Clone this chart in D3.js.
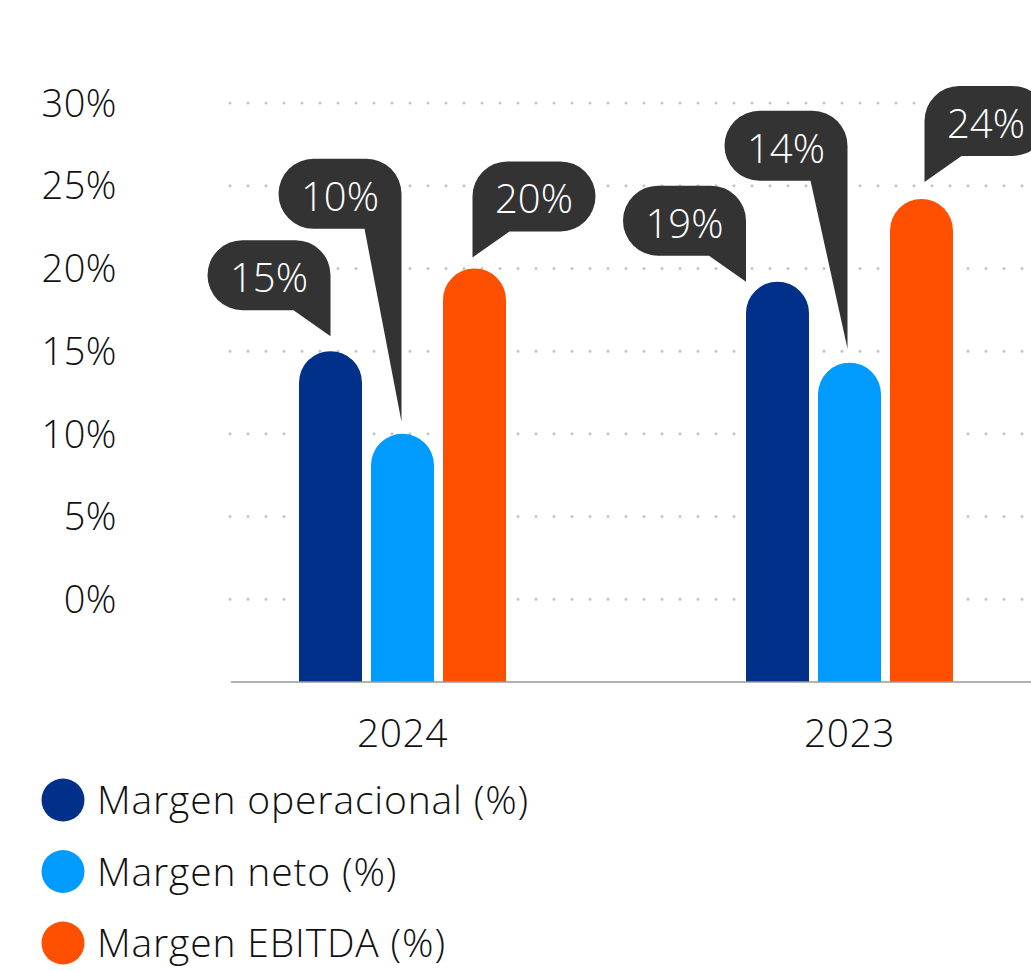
<!DOCTYPE html>
<html>
<head>
<meta charset="utf-8">
<script src="https://cdn.jsdelivr.net/npm/d3@7"></script>
<style>
  html, body { margin: 0; padding: 0; background: #fff; }
  text { font-family: "Open Sans", "Noto Sans", sans-serif; font-weight: 300; }
</style>
</head>
<body>
<div id="chart"></div>
<script>
// data
var years = ["2024", "2023"];
var seriesNames = ["Margen operacional (%)", "Margen neto (%)", "Margen EBITDA (%)"];
var margenOperacional = [15, 19.2];
var margenNeto = [10, 14.3];
var margenEbitda = [20, 24.2];
var yTicks = [0, 5, 10, 15, 20, 25, 30];

var colors = ["#00308a", "#009bff", "#fe5000"];

// callout layout (tail side, gap above bar, tail length, tip shift)
var calloutSide = ["right", "right", "left"];
var calloutGap = { "2024": [15, 12, 11], "2023": [0, 14, 17] };
var calloutTail = { "2024": [26, 193, 26], "2023": [26, 168, 26] };
var calloutDx = { "2024": [0, -1, -2], "2023": [-31.5, -2, 3] };

var width = 1031, height = 971;
var seriesValues = [margenOperacional, margenNeto, margenEbitda];

var rows = [];
years.forEach(function(yr, i) {
    seriesValues.forEach(function(vals, s) {
        rows.push({ year: yr, s: s, value: vals[i] });
    });
});

var svg = d3.select("#chart").append("svg")
    .attr("width", width)
    .attr("height", height);

var y = d3.scaleLinear()
    .domain([-5, 30])
    .range([682, 103]);

var x0 = d3.scaleBand()
    .domain(years)
    .range([179, 1073]);

var x1 = d3.scaleBand()
    .domain(d3.range(seriesNames.length))
    .range([x0.bandwidth() / 2 - 103.5, x0.bandwidth() / 2 + 103.5])
    .paddingInner(0.125);

// dotted grid lines
svg.append("g").selectAll("line")
    .data(yTicks)
    .enter().append("line")
    .attr("x1", 230)
    .attr("x2", width)
    .attr("y1", function(d) { return y(d); })
    .attr("y2", function(d) { return y(d); })
    .attr("stroke", "#c4c4c4")
    .attr("stroke-width", 3)
    .attr("stroke-linecap", "round")
    .attr("stroke-dasharray", "0 18");

// y labels
svg.append("g").selectAll("text")
    .data(yTicks)
    .enter().append("text")
    .attr("x", 117)
    .attr("y", function(d) { return y(d); })
    .attr("dy", "0.36em")
    .attr("text-anchor", "end")
    .attr("font-size", 38)
    .attr("letter-spacing", 0.5)
    .attr("fill", "#111")
    .text(function(d) { return d + "%"; });

// bars with round tops
function barPath(d) {
    var bx = x0(d.year) + x1(d.s), bw = x1.bandwidth(), r = bw / 2;
    var top = y(d.value), bottom = y(-5);
    return "M" + bx + "," + bottom +
        "V" + (top + r) +
        "A" + r + "," + r + " 0 0 1 " + (bx + bw) + "," + (top + r) +
        "V" + bottom + "Z";
}

svg.append("g").selectAll("path")
    .data(rows)
    .enter().append("path")
    .attr("d", barPath)
    .attr("fill", function(d) { return colors[d.s]; });

// x axis line + labels
svg.append("line")
    .attr("x1", 231).attr("x2", width)
    .attr("y1", y(-5)).attr("y2", y(-5))
    .attr("stroke", "#999").attr("stroke-width", 1.5);

svg.append("g").selectAll("text")
    .data(years)
    .enter().append("text")
    .attr("x", function(d) { return x0(d) + x0.bandwidth() / 2; })
    .attr("y", 747)
    .attr("text-anchor", "middle")
    .attr("font-size", 39)
    .attr("letter-spacing", 0.5)
    .attr("fill", "#111")
    .text(function(d) { return d; });

// callouts
var bw = 123, bh = 70, br = 35, tw = 37;

function callout(d) {
    var tx = x0(d.year) + x1(d.s) + x1.bandwidth() / 2 + calloutDx[d.year][d.s];
    var ty = y(d.value) - calloutGap[d.year][d.s];
    var B = ty - calloutTail[d.year][d.s], T = B - bh, L, R, p;
    if (calloutSide[d.s] == "right") {
        R = tx; L = tx - bw;
        p = "M" + (L + br) + "," + T + "H" + (R - br) +
            "A" + br + "," + br + " 0 0 1 " + R + "," + (T + br) +
            "V" + ty + "L" + (R - tw) + "," + B + "H" + (L + br) +
            "A" + br + "," + br + " 0 0 1 " + L + "," + (B - br) +
            "V" + (T + br) +
            "A" + br + "," + br + " 0 0 1 " + (L + br) + "," + T + "Z";
    } else {
        L = tx; R = tx + bw;
        p = "M" + (L + br) + "," + T + "H" + (R - br) +
            "A" + br + "," + br + " 0 0 1 " + R + "," + (T + br) +
            "V" + (B - br) +
            "A" + br + "," + br + " 0 0 1 " + (R - br) + "," + B +
            "H" + (L + tw) + "L" + L + "," + ty + "V" + (T + br) +
            "A" + br + "," + br + " 0 0 1 " + (L + br) + "," + T + "Z";
    }
    return { path: p, cx: (L + R) / 2, cy: (T + B) / 2 };
}

var calls = svg.append("g").selectAll("g")
    .data(rows)
    .enter().append("g");

calls.append("path")
    .attr("d", function(d) { return callout(d).path; })
    .attr("fill", "#333333");

calls.append("text")
    .attr("x", function(d) { return callout(d).cx; })
    .attr("y", function(d) { return callout(d).cy + 17; })
    .attr("text-anchor", "middle")
    .attr("font-size", 40)
    .attr("fill", "#fff")
    .text(function(d) { return Math.round(d.value) + "%"; });

// legend
var legend = svg.append("g").selectAll("g")
    .data(seriesNames)
    .enter().append("g")
    .attr("transform", function(d, i) { return "translate(0," + (800 + i * 71.5) + ")"; });

legend.append("circle")
    .attr("cx", 63).attr("cy", 0).attr("r", 21.5)
    .attr("fill", function(d, i) { return colors[i]; });

legend.append("text")
    .attr("x", 97)
    .attr("y", 0)
    .attr("dy", "0.36em")
    .attr("font-size", 39)
    .attr("letter-spacing", 0.85)
    .attr("fill", "#111")
    .text(function(d) { return d; });
</script>
</body>
</html>
